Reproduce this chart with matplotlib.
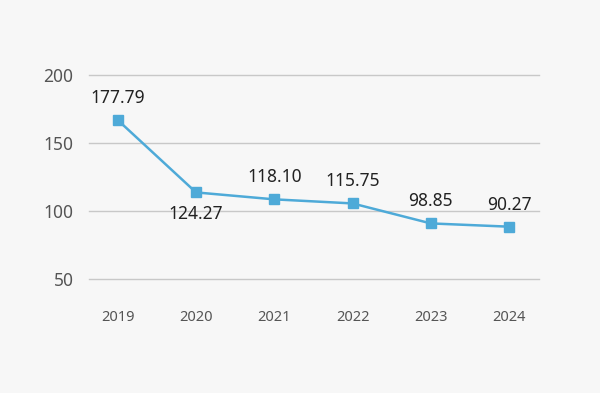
import matplotlib.pyplot as plt

years = ["2019", "2020", "2021", "2022", "2023", "2024"]
values = [166.9, 113.7, 108.6, 105.6, 90.9, 88.5]
value_labels = ["177.79", "124.27", "118.10", "115.75", "98.85", "90.27"]
label_side = [1, -1, 1, 1, 1, 1]  # 1 = above point, -1 = below
yticks = [50, 100, 150, 200]

plt.rcParams['font.family'] = ['Noto Sans', 'DejaVu Sans']

bg = '#f7f7f7'
fig = plt.figure(figsize=(6, 3.93), dpi=100, facecolor=bg)
ax = fig.add_axes([0.148, 0.290, 0.75, 0.519], facecolor=bg)

x = range(len(years))
ax.plot(x, values, color='#4eaad8', lw=1.8, marker='s', ms=7,
        markerfacecolor='#4eaad8', markeredgecolor='#4eaad8', zorder=3)

for i, (v, lab, s) in enumerate(zip(values, value_labels, label_side)):
    ax.annotate(lab, (i, v), xytext=(0, 22 * s), textcoords='offset pixels',
                ha='center', va='center', fontsize=12.5, color='#222222')

for t in yticks:
    ax.axhline(t, color='#c8c8c8', lw=1, zorder=1, clip_on=False)

ax.set_xlim(-0.37, 5.38)
ax.set_ylim(50, 200)
ax.set_yticks(yticks)
ax.set_xticks(list(x))
ax.set_xticklabels(years)
ax.tick_params(axis='y', length=0, pad=11, labelsize=12.5, labelcolor='#555555')
ax.tick_params(axis='x', length=0, pad=22, labelsize=10.5, labelcolor='#555555')
for sp in ax.spines.values():
    sp.set_visible(False)

fig.savefig("out.png", dpi=100, facecolor=bg)
